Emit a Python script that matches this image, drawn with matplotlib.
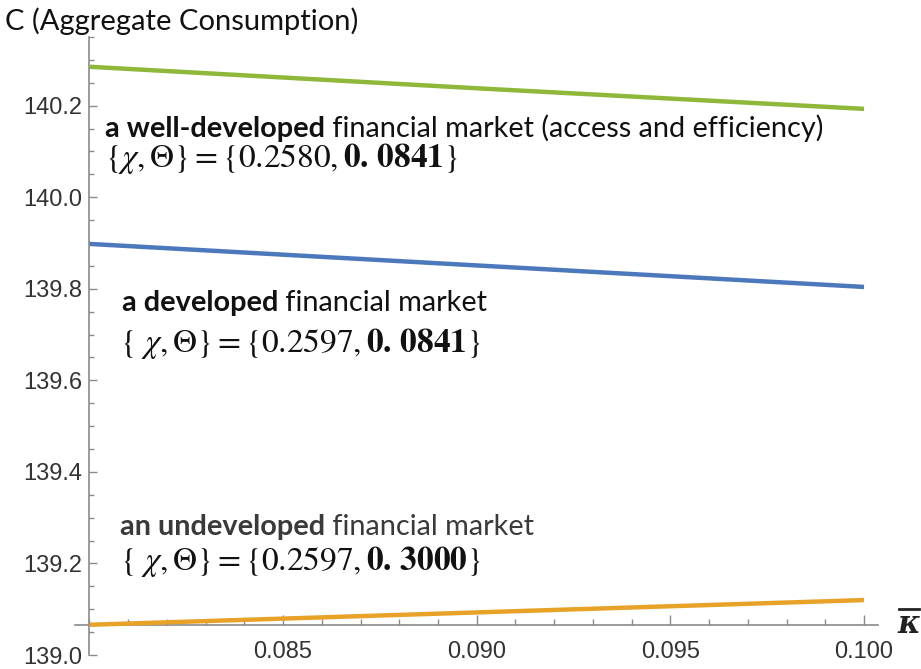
import matplotlib
matplotlib.use('Agg')
import matplotlib.pyplot as plt
import matplotlib.transforms as mtransforms
from matplotlib import font_manager as fm
from matplotlib.lines import Line2D
from matplotlib.ticker import FixedLocator, MultipleLocator

# ---- data ----
kappa = [0.080, 0.090, 0.100]
c_well_developed = [140.285, 140.238, 140.193]
c_developed = [139.898, 139.851, 139.804]
c_undeveloped = [139.066, 139.093, 139.120]

x_ticks = [0.085, 0.090, 0.095, 0.100]
x_ticklabels = ['0.085', '0.090', '0.095', '0.100']
y_ticks = [139.0, 139.2, 139.4, 139.6, 139.8, 140.0, 140.2]
y_ticklabels = ['139.0', '139.2', '139.4', '139.6', '139.8', '140.0', '140.2']

title_text = 'C (Aggregate Consumption)'
ann_well = [('a well-developed', 'bold'), (' financial market (access and efficiency)', 'normal')]
math_well = r'$\{\chi, \Theta\} = \{0.2580, \mathbf{0.\,0841}\}$'
ann_dev = [('a developed', 'bold'), (' financial market', 'normal')]
math_dev = r'$\{\ \chi, \Theta\} = \{0.2597, \mathbf{0.\,0841}\}$'
ann_undev = [('an undeveloped', 'bold'), (' financial market', 'normal')]
math_undev = r'$\{\ \chi, \Theta\} = \{0.2597, \mathbf{0.\,3000}\}$'

# ---- style ----
plt.rcParams['mathtext.fontset'] = 'stix'
names = {f.name for f in fm.fontManager.ttflist}
if 'Liberation Sans Narrow' in names:
    tick_family, tick_size = 'Liberation Sans Narrow', 20
else:
    tick_family, tick_size = 'Liberation Sans', 17
text_family = 'Lato' if 'Lato' in names else 'Open Sans'

W, H = 921, 669
fig = plt.figure(figsize=(W / 100, H / 100), dpi=100)
ax = fig.add_axes([75 / W, 1 - 655 / H, (878 - 75) / W, (655 - 37) / H])
ax.set_xlim(0.079626, 0.100361)
ax.set_ylim(139.0, 140.35)

ax.plot(kappa, c_well_developed, color='#8DB83A', lw=3.2, solid_capstyle='butt', zorder=3)
ax.plot(kappa, c_developed, color='#4C78BC', lw=3.2, solid_capstyle='butt', zorder=3)
ax.plot(kappa, c_undeveloped, color='#E8A228', lw=3.2, solid_capstyle='butt', zorder=3)

spine_col = '#8a8a8a'
for s in ['top', 'right']:
    ax.spines[s].set_visible(False)
ax.spines['left'].set_position(('data', kappa[0]))
ax.spines['left'].set_bounds(139.0, 140.35)
ax.spines['bottom'].set_position(('data', c_undeveloped[0]))
for s in ['left', 'bottom']:
    ax.spines[s].set_color(spine_col)
    ax.spines[s].set_linewidth(1.2)

ax.xaxis.set_major_locator(FixedLocator(x_ticks))
ax.set_xticklabels(x_ticklabels)
ax.xaxis.set_minor_locator(MultipleLocator(0.001))
ax.yaxis.set_major_locator(FixedLocator(y_ticks))
ax.set_yticklabels(y_ticklabels)
ax.yaxis.set_minor_locator(MultipleLocator(0.05))

ax.tick_params(which='both', direction='in', color=spine_col, width=1.0,
               labelcolor='#333333')
ax.tick_params(axis='x', which='major', length=7, pad=11.5)
ax.tick_params(axis='x', which='minor', length=4)
ax.tick_params(axis='y', which='major', length=6, pad=5)
ax.tick_params(axis='y', which='minor', length=3.5)
for lab in ax.get_xticklabels() + ax.get_yticklabels():
    lab.set_family(tick_family)
    lab.set_fontsize(tick_size)

renderer = fig.canvas.get_renderer()


def mixed(x, y, parts, size, color):
    dx = 0.0
    for s, w in parts:
        tr = mtransforms.offset_copy(ax.transData, fig=fig, x=dx, y=0, units='dots')
        t = ax.text(x, y, s, transform=tr, fontsize=size, fontweight=w,
                    family=text_family, color=color, ha='left', va='baseline')
        dx += t.get_window_extent(renderer=renderer).width


txt_size = 20.8
math_size = 24
mixed(0.0804, 140.132, ann_well, txt_size, '#111111')
ax.text(0.0804, 140.067, math_well, fontsize=math_size, color='#111111', ha='left', va='baseline')
mixed(0.08084, 139.752, ann_dev, txt_size, '#111111')
ax.text(0.08079, 139.662, math_dev, fontsize=math_size, color='#111111', ha='left', va='baseline')
mixed(0.08079, 139.262, ann_undev, txt_size, '#3a3a3a')
ax.text(0.08079, 139.186, math_undev, fontsize=math_size, color='#111111', ha='left', va='baseline')

fig.text(5 / W, 1 - 30 / H, title_text, family=text_family, fontsize=21,
         color='#111111', ha='left', va='baseline')

# x-axis label: bold italic kappa with overline
fig.text(909 / W, 1 - 633 / H, '\u03ba', family='DejaVu Serif', fontweight='bold',
         fontstyle='italic', fontsize=22, color='#222222', ha='center', va='baseline')
fig.add_artist(Line2D([899 / W, 919 / W], [1 - 609 / H, 1 - 609 / H],
                      transform=fig.transFigure, color='#222222', lw=2.0))

fig.savefig('out.png', dpi=100)
